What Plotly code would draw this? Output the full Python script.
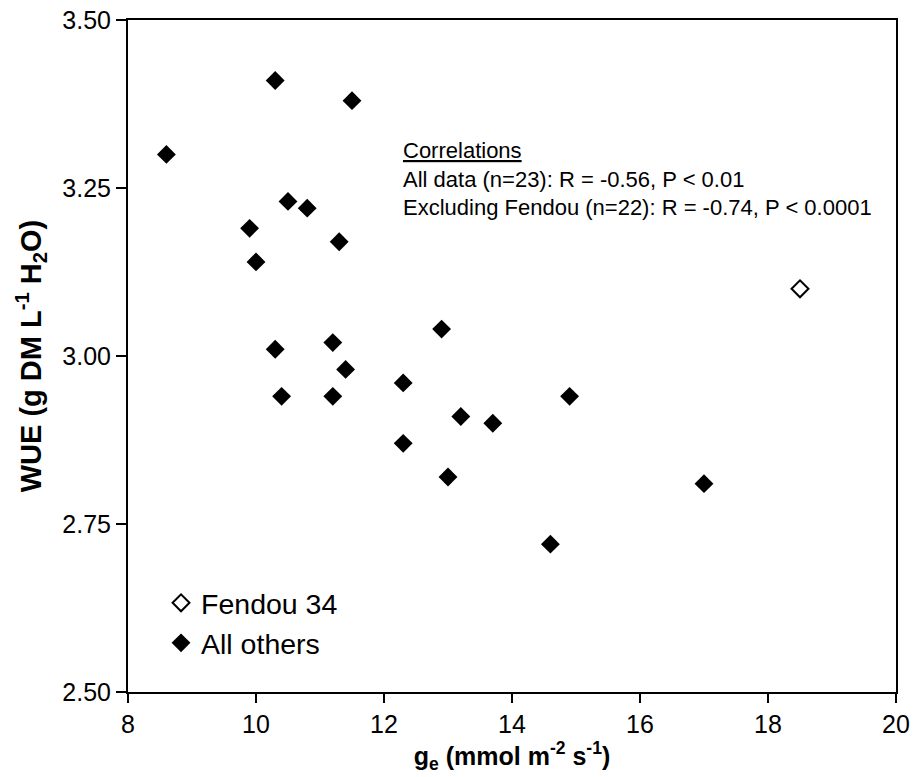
import plotly.graph_objects as go

# Data
others_ge = [8.6, 10.3, 11.5, 10.5, 10.8, 9.9, 11.3, 10.0, 12.9, 10.3, 11.2,
             11.4, 12.3, 10.4, 11.2, 12.3, 13.0, 13.2, 13.7, 14.9, 14.6, 17.0]
others_wue = [3.30, 3.41, 3.38, 3.23, 3.22, 3.19, 3.17, 3.14, 3.04, 3.01, 3.02,
              2.98, 2.96, 2.94, 2.94, 2.87, 2.82, 2.91, 2.90, 2.94, 2.72, 2.81]
fendou_ge = [18.5]
fendou_wue = [3.10]

x_ticks = [8, 10, 12, 14, 16, 18, 20]
y_ticks = [2.50, 2.75, 3.00, 3.25, 3.50]
y_tick_labels = ["2.50", "2.75", "3.00", "3.25", "3.50"]

FONT = "Arial, 'Liberation Sans', sans-serif"

fig = go.Figure()
fig.add_trace(go.Scatter(
    x=fendou_ge, y=fendou_wue, mode="markers", name="Fendou 34",
    marker=dict(symbol="diamond-open", size=13, color="black",
                line=dict(color="black", width=2)),
))
fig.add_trace(go.Scatter(
    x=others_ge, y=others_wue, mode="markers", name="All others",
    marker=dict(symbol="diamond", size=14.5, color="black",
                line=dict(width=0)),
))

fig.add_annotation(
    xref="paper", yref="paper", x=0.355, y=0.827,
    xanchor="left", yanchor="top", align="left", showarrow=False,
    text=("<u>Correlations</u><br>All data (n=23): R = -0.56, P &lt; 0.01"
          "<br>Excluding Fendou (n=22): R = -0.74, P &lt; 0.0001"),
    font=dict(family=FONT, size=22, color="black"),
)

fig.update_layout(
    width=914, height=777,
    margin=dict(l=128, r=18, t=20, b=85, autoexpand=False),
    paper_bgcolor="white", plot_bgcolor="white",
    font=dict(family=FONT, color="black"),
    showlegend=True,
    legend=dict(
        x=0.043, y=0.17, xanchor="left", yanchor="top",
        bgcolor="rgba(0,0,0,0)", font=dict(family=FONT, size=28.5, color="black"),
        tracegroupgap=0, itemwidth=30,
    ),
    xaxis=dict(
        range=[8, 20], tickvals=x_ticks, ticks="outside", ticklen=9,
        tickwidth=2, tickcolor="black", showline=True, linecolor="black",
        linewidth=2, mirror=True, showgrid=False, zeroline=False,
        automargin=False, ticklabeloverflow="allow",
        tickfont=dict(family=FONT, size=25, color="black"),
        title=dict(text="<b>g<sub>e</sub> (mmol m<sup>-2</sup> s<sup>-1</sup>)</b>",
                   font=dict(family=FONT, size=25, color="black"), standoff=10),
    ),
    yaxis=dict(
        range=[2.5, 3.5], tickvals=y_ticks, ticktext=y_tick_labels,
        ticks="outside", ticklen=10, tickwidth=2, tickcolor="black",
        showline=True, linecolor="black", linewidth=2, mirror=True,
        showgrid=False, zeroline=False, ticklabelstandoff=0,
        automargin=False, ticklabeloverflow="allow",
        tickfont=dict(family=FONT, size=25, color="black"),
        title=dict(text="<b>WUE (g DM L<sup>-1</sup> H<sub>2</sub>O)</b>",
                   font=dict(family=FONT, size=29, color="black"), standoff=12),
    ),
)

fig.write_html("out.html", config={"displayModeBar": False},
               post_script="document.body.style.margin='0';")
